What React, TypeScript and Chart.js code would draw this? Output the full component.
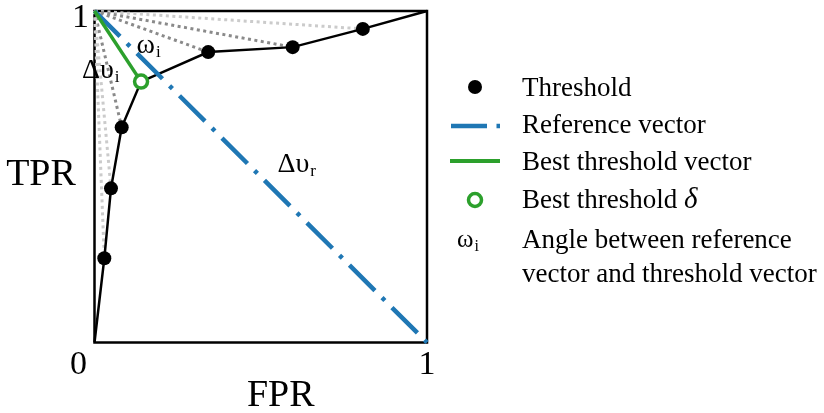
import React, { useEffect, useRef } from "react";
import Chart from "chart.js/auto";

// ---- data ----
const thresholdFPR = [0.0295, 0.0496, 0.0818, 0.342, 0.596, 0.807];
const thresholdTPR = [0.254, 0.465, 0.649, 0.876, 0.891, 0.946];
const bestFPR = 0.14;
const bestTPR = 0.787;
const referenceFPR = [0, 1];
const referenceTPR = [1, 0];
const originFPR = 0;
const originTPR = 1;
const axisTicks = ["0", "1"];
const axisTitles = ["FPR", "TPR"];
const legendLabels = [
  "Threshold",
  "Reference vector",
  "Best threshold vector",
  "Best threshold ",
  "Angle between reference",
  "vector and threshold vector",
];

const FONT = "'Liberation Serif', 'DejaVu Serif', serif";
const BLUE = "#1f77b4";
const GREEN = "#2ca02c";
const DARK_GUIDE = "#8a8a8a";
const LIGHT_GUIDE = "#cbcbcb";

function drawSub(ctx: CanvasRenderingContext2D, x: number, y: number, main: string, sub: string, size: number) {
  ctx.font = `${size}px ${FONT}`;
  ctx.fillText(main, x, y);
  const w = ctx.measureText(main).width;
  ctx.font = `${Math.round(size * 0.62)}px ${FONT}`;
  ctx.fillText(sub, x + w + 1, y + size * 0.16);
}

const decorPlugin = {
  id: "decor",
  beforeDatasetsDraw(chart: any) {
    const { ctx, chartArea: a } = chart;
    ctx.save();
    ctx.strokeStyle = "#000";
    ctx.lineWidth = 2.5;
    ctx.strokeRect(a.left, a.top, a.right - a.left, a.bottom - a.top);
    ctx.restore();
  },
  afterDraw(chart: any) {
    const { ctx, chartArea: a } = chart;
    const xs = chart.scales.x;
    const ys = chart.scales.y;
    ctx.save();
    ctx.fillStyle = "#000";
    ctx.textBaseline = "alphabetic";

    // tick labels
    ctx.textAlign = "center";
    ctx.font = `34px ${FONT}`;
    ctx.fillText(axisTicks[1], xs.getPixelForValue(0) - 14, ys.getPixelForValue(1) + 16);
    ctx.fillText(axisTicks[0], xs.getPixelForValue(0) - 16, ys.getPixelForValue(0) + 31);
    ctx.fillText(axisTicks[1], xs.getPixelForValue(1), ys.getPixelForValue(0) + 31);

    // axis titles
    ctx.font = `38px ${FONT}`;
    ctx.fillText(axisTitles[0], (a.left + a.right) / 2 + 20, a.bottom + 63);
    ctx.fillText(axisTitles[1], 41, (a.top + a.bottom) / 2 + 8);

    // annotations
    ctx.textAlign = "left";
    drawSub(ctx, a.left + 42, a.top + 42, "\u03C9", "i", 28);
    drawSub(ctx, a.left - 12.5, a.top + 67, "\u0394\u03C5", "i", 28);
    drawSub(ctx, a.left + 183, a.top + 161, "\u0394\u03C5", "r", 28);

    // legend
    const mx = 475;
    const tx = 522;
    const rows = [96, 133, 170, 208, 248, 282];
    legendLabels.forEach((t, i) => {
      ctx.font = `27px ${FONT}`;
      ctx.fillText(t, tx, rows[i]);
      if (i === 3) {
        const w = ctx.measureText(t).width;
        ctx.font = `italic 29px ${FONT}`;
        ctx.fillText("\u03B4", tx + w, rows[i]);
      }
    });
    // threshold marker
    ctx.beginPath();
    ctx.arc(mx, rows[0] - 9, 7, 0, Math.PI * 2);
    ctx.fill();
    // reference vector
    ctx.strokeStyle = BLUE;
    ctx.lineWidth = 4.5;
    ctx.lineCap = "butt";
    ctx.beginPath();
    ctx.moveTo(451, rows[1] - 7);
    ctx.lineTo(487, rows[1] - 7);
    ctx.moveTo(496.5, rows[1] - 7);
    ctx.lineTo(500, rows[1] - 7);
    ctx.stroke();
    // best vector
    ctx.strokeStyle = GREEN;
    ctx.lineWidth = 4;
    ctx.beginPath();
    ctx.moveTo(450, rows[2] - 9);
    ctx.lineTo(500, rows[2] - 9);
    ctx.stroke();
    // best circle
    ctx.lineWidth = 3.5;
    ctx.fillStyle = "#fff";
    ctx.beginPath();
    ctx.arc(mx, rows[3] - 8, 6.5, 0, Math.PI * 2);
    ctx.fill();
    ctx.stroke();
    ctx.fillStyle = "#000";
    drawSub(ctx, 457, rows[4] - 1, "\u03C9", "i", 25);
    ctx.restore();
  },
};

export default function App() {
  const ref = useRef<HTMLCanvasElement>(null);
  useEffect(() => {
    if (!ref.current) return;
    const rocPts = [{ x: 0, y: 0 }];
    const rocRadius = [0];
    const all = thresholdFPR.map((x, i) => ({ x, y: thresholdTPR[i], r: 7 }));
    all.push({ x: bestFPR, y: bestTPR, r: 0 });
    all.sort((p, q) => p.x - q.x);
    all.forEach((p) => {
      rocPts.push({ x: p.x, y: p.y });
      rocRadius.push(p.r);
    });
    rocPts.push({ x: 1, y: 1 });
    rocRadius.push(0);

    const darkGuides = new Set([2, 3, 4]);
    const guideSets = thresholdFPR.map((x, i) => ({
      type: "scatter" as const,
      data: [
        { x: originFPR, y: originTPR },
        { x, y: thresholdTPR[i] },
      ],
      showLine: true,
      borderColor: darkGuides.has(i) ? DARK_GUIDE : LIGHT_GUIDE,
      borderWidth: 3,
      borderDash: [3, 3.5],
      borderCapStyle: "butt" as const,
      pointRadius: 0,
      clip: false as any,
      order: 10,
    }));

    const chart = new Chart(ref.current, {
      type: "scatter",
      data: {
        datasets: [
          ...guideSets,
          {
            data: rocPts,
            showLine: true,
            borderColor: "#000",
            borderWidth: 2.5,
            pointRadius: rocRadius,
            pointBackgroundColor: "#000",
            pointBorderWidth: 0,
            clip: false as any,
            order: 5,
          },
          {
            data: referenceFPR.map((x, i) => ({ x, y: referenceTPR[i] })),
            showLine: true,
            borderColor: BLUE,
            borderWidth: 4.5,
            borderDash: [36, 10, 4, 10],
            borderCapStyle: "butt",
            pointRadius: 0,
            clip: false as any,
            order: 3,
          },
          {
            data: [
              { x: originFPR, y: originTPR },
              { x: bestFPR, y: bestTPR },
            ],
            showLine: true,
            borderColor: GREEN,
            borderWidth: 3.5,
            pointRadius: 0,
            clip: false as any,
            order: 2,
          },
          {
            data: [{ x: bestFPR, y: bestTPR }],
            showLine: false,
            pointRadius: 6.5,
            pointBorderWidth: 3.5,
            pointBorderColor: GREEN,
            pointBackgroundColor: "#fff",
            clip: false as any,
            order: 1,
          },
        ] as any,
      },
      options: {
        animation: false,
        responsive: false,
        devicePixelRatio: 1,
        events: [],
        layout: { padding: { left: 94.5, top: 11, right: 397, bottom: 70.5 } },
        plugins: { legend: { display: false }, tooltip: { enabled: false } },
        scales: {
          x: { type: "linear", min: 0, max: 1, display: false },
          y: { type: "linear", min: 0, max: 1, display: false },
        },
      },
      plugins: [decorPlugin],
    });
    return () => chart.destroy();
  }, []);
  return (
    <div style={{ position: "fixed", left: 0, top: 0, width: 824, height: 413, background: "#fff" }}>
      <canvas ref={ref} width={824} height={413} style={{ display: "block", width: 824, height: 413 }} />
    </div>
  );
}
